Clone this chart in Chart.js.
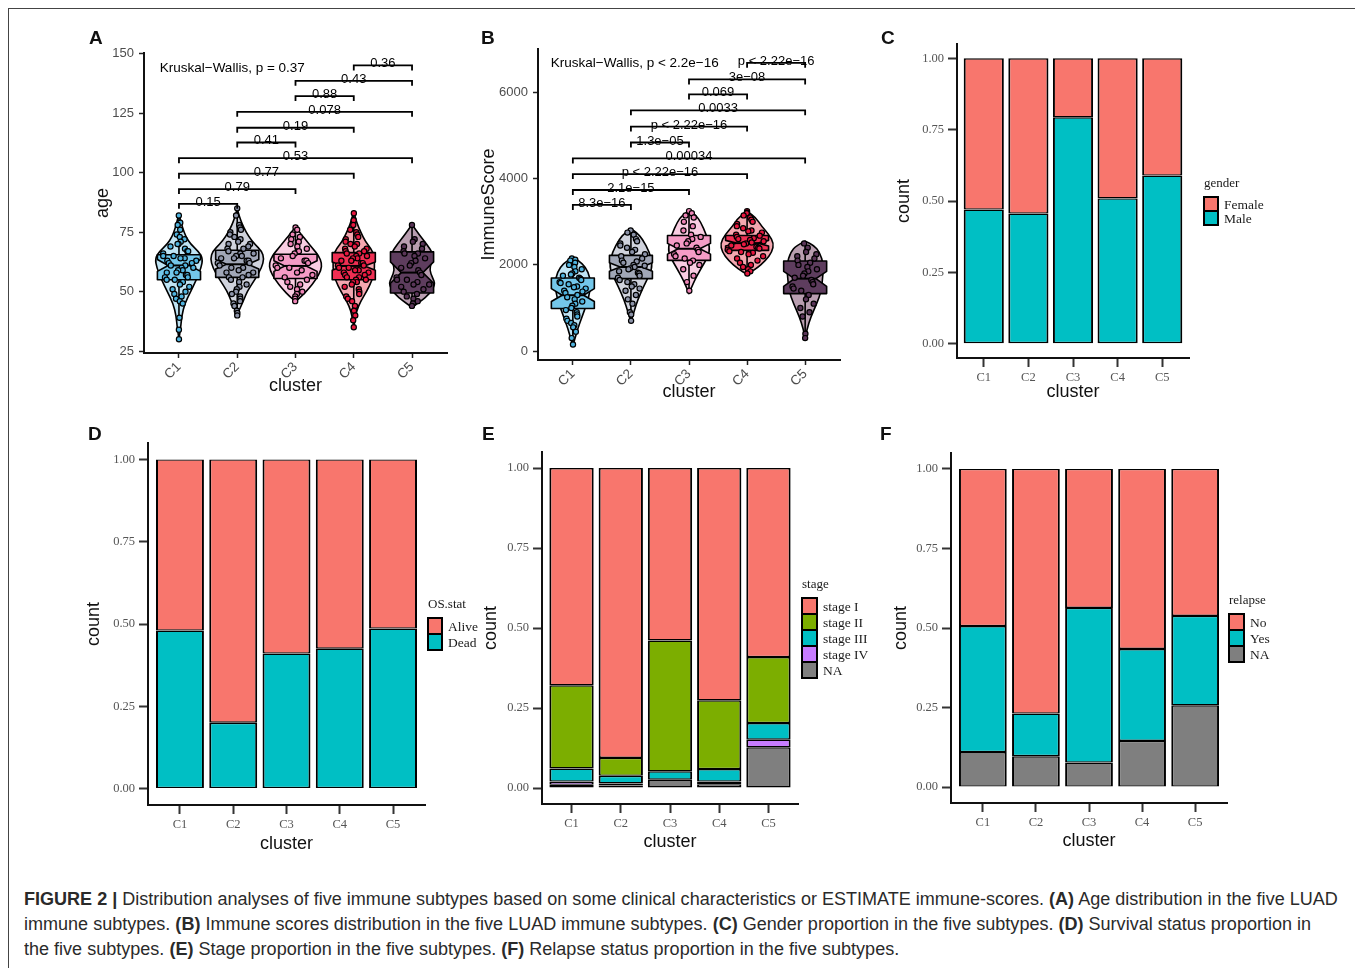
<!DOCTYPE html>
<html>
<head>
<meta charset="utf-8">
<script src="https://cdn.jsdelivr.net/npm/chart.js@4.4.1/dist/chart.umd.min.js"></script>
<style>
  html, body { margin: 0; padding: 0; background: #fff; }
  body { width: 1355px; height: 968px; position: relative; overflow: hidden; font-family: "Liberation Sans", Arial, sans-serif; }
  .frame { position: absolute; left: 8px; top: 8px; right: 0; bottom: 0; border-top: 1px solid #444; border-left: 1px solid #444; }
  canvas { position: absolute; }
  .tag { position: absolute; font-weight: bold; font-size: 19px; color: #111; line-height: 1; }
  .caption { position: absolute; left: 24px; top: 887px; font-size: 17.5px; line-height: 25px; color: #2a2a2a; white-space: nowrap; transform-origin: 0 0; }
</style>
</head>
<body>
<div class="frame"></div>

<canvas id="pA" width="390" height="360" style="left:80px;top:40px"></canvas>
<canvas id="pB" width="380" height="370" style="left:470px;top:36px"></canvas>
<canvas id="pC" width="420" height="380" style="left:870px;top:30px"></canvas>
<canvas id="pD" width="410" height="430" style="left:80px;top:430px"></canvas>
<canvas id="pE" width="410" height="422" style="left:475px;top:438px"></canvas>
<canvas id="pF" width="420" height="422" style="left:870px;top:438px"></canvas>

<div class="tag" style="left:89px;top:28px">A</div>
<div class="tag" style="left:481px;top:28px">B</div>
<div class="tag" style="left:881px;top:28px">C</div>
<div class="tag" style="left:88px;top:424px">D</div>
<div class="tag" style="left:482px;top:424px">E</div>
<div class="tag" style="left:880px;top:424px">F</div>

<div class="caption" id="caption">
  <div id="capLine1"><b>FIGURE 2 |</b> Distribution analyses of five immune subtypes based on some clinical characteristics or ESTIMATE immune-scores. <b>(A)</b> Age distribution in the five LUAD</div>
  <div>immune subtypes. <b>(B)</b> Immune scores distribution in the five LUAD immune subtypes. <b>(C)</b> Gender proportion in the five subtypes. <b>(D)</b> Survival status proportion in</div>
  <div>the five subtypes. <b>(E)</b> Stage proportion in the five subtypes. <b>(F)</b> Relapse status proportion in the five subtypes.</div>
</div>

<script>
Chart.defaults.font.family = "'Liberation Sans', Arial, sans-serif";

// === DATA ===
const clusters = ["C1", "C2", "C3", "C4", "C5"];

// A: age, points per cluster
const ageTicks = [25, 50, 75, 100, 125, 150];
const ageC1 = [82, 79, 78, 76, 74, 73, 72, 71, 70, 70, 69, 68, 67, 67, 66, 65, 65, 64, 64, 63, 63, 62, 62, 61, 61, 60, 60, 59, 59, 58, 58, 57, 57, 56, 56, 55, 55, 54, 53, 52, 51, 50, 49, 48, 47, 46, 45, 39, 34, 30];
const ageC2 = [85, 82, 78, 77, 76, 75, 74, 73, 72, 71, 70, 70, 69, 68, 68, 67, 66, 66, 65, 65, 64, 64, 63, 63, 62, 62, 61, 60, 60, 59, 58, 58, 57, 56, 56, 55, 54, 53, 52, 51, 50, 49, 48, 47, 46, 45, 44, 42, 41, 40];
const ageC3 = [77, 76, 74, 73, 72, 71, 70, 69, 68, 67, 66, 65, 64, 63, 63, 62, 61, 60, 60, 59, 58, 57, 56, 55, 54, 53, 52, 51, 50, 49, 48, 47, 46];
const ageC4 = [83, 80, 78, 76, 75, 74, 73, 72, 71, 70, 70, 69, 68, 68, 67, 67, 66, 66, 65, 65, 64, 64, 63, 63, 62, 62, 61, 61, 60, 60, 59, 59, 58, 58, 57, 57, 56, 56, 55, 55, 54, 54, 53, 52, 51, 50, 49, 48, 47, 46, 44, 42, 40, 38, 35];
const ageC5 = [78, 72, 71, 70, 69, 68, 67, 66, 66, 65, 64, 63, 62, 61, 60, 59, 58, 57, 56, 55, 55, 54, 53, 53, 52, 51, 50, 49, 48, 47, 46, 45, 44];
// box: [whiskerLow, q1, notchLow, median, notchHigh, q3, whiskerHigh]
const ageBoxes = [
  [39, 55, 58.5, 61, 63.5, 65.5, 82],
  [40, 56, 59.5, 61.5, 63.5, 67.4, 85],
  [46, 55.5, 58.5, 60.8, 63, 65.7, 77],
  [35, 55, 59, 60.8, 62.5, 66.4, 83],
  [44, 49.4, 53.5, 58, 62.5, 66.7, 78],
];
// violin outline: [age, half width in cluster units]
const ageViolins = [
  [[30, 0], [35, 0.03], [40, 0.05], [45, 0.1], [50, 0.2], [55, 0.3], [60, 0.38], [64, 0.41], [67, 0.33], [70, 0.2], [73, 0.12], [77, 0.06], [80, 0.03], [82.4, 0]],
  [[40.5, 0], [43, 0.05], [47, 0.12], [50, 0.17], [55, 0.3], [60, 0.42], [64, 0.46], [67, 0.42], [70, 0.3], [73, 0.2], [77, 0.11], [80, 0.06], [83, 0.02], [85, 0]],
  [[45.8, 0], [48, 0.1], [51, 0.22], [55, 0.35], [59, 0.44], [62, 0.45], [65, 0.4], [68, 0.3], [71, 0.2], [74, 0.1], [77.3, 0]],
  [[35, 0], [38, 0.02], [42, 0.05], [46, 0.12], [50, 0.22], [55, 0.32], [60, 0.36], [65, 0.35], [68, 0.3], [71, 0.2], [75, 0.12], [79, 0.05], [83.8, 0]],
  [[43.4, 0], [46, 0.15], [49, 0.3], [53, 0.4], [56, 0.35], [59, 0.3], [62, 0.33], [66, 0.36], [70, 0.25], [74, 0.12], [78.2, 0]],
];
// pairwise tests: [from, to, p label, bracket level]
const ageCompare = [
  [1, 2, "0.15", 86.9], [1, 3, "0.79", 93.1], [1, 4, "0.77", 99.6], [1, 5, "0.53", 106.1],
  [2, 3, "0.41", 112.7], [2, 4, "0.19", 118.9], [2, 5, "0.078", 125.6],
  [3, 4, "0.88", 132.2], [3, 5, "0.43", 138.6], [4, 5, "0.36", 145.1],
];

// B: ImmuneScore
const immTicks = [0, 2000, 4000, 6000];
const immC1 = [2150, 2120, 2100, 2050, 2000, 1950, 1900, 1850, 1800, 1780, 1750, 1700, 1680, 1650, 1600, 1580, 1550, 1500, 1480, 1450, 1400, 1380, 1350, 1300, 1250, 1200, 1150, 1100, 1050, 1000, 950, 900, 850, 800, 750, 700, 650, 600, 550, 450, 300, 150];
const immC2 = [2800, 2750, 2700, 2600, 2550, 2500, 2450, 2400, 2350, 2300, 2250, 2200, 2150, 2100, 2080, 2050, 2000, 1980, 1950, 1920, 1900, 1850, 1820, 1800, 1750, 1700, 1650, 1600, 1550, 1500, 1450, 1400, 1300, 1200, 1100, 900, 850, 700];
const immC3 = [3250, 3200, 3150, 3100, 3000, 2900, 2800, 2700, 2650, 2600, 2550, 2500, 2450, 2400, 2350, 2300, 2250, 2200, 2150, 2100, 2050, 2000, 1900, 1750, 1600, 1400];
const immC4 = [3250, 3220, 3200, 3150, 3100, 3050, 3000, 2950, 2900, 2850, 2800, 2780, 2750, 2700, 2680, 2650, 2620, 2600, 2580, 2550, 2520, 2500, 2480, 2450, 2420, 2400, 2380, 2350, 2320, 2300, 2280, 2250, 2200, 2150, 2100, 2050, 2000, 1950, 1900, 1850, 1800];
const immC5 = [2500, 2400, 2300, 2250, 2200, 2150, 2100, 2050, 2000, 1950, 1900, 1850, 1800, 1750, 1700, 1650, 1600, 1550, 1500, 1450, 1400, 1300, 1200, 1100, 1000, 900, 800, 400, 300];
const immBoxes = [
  [150, 987, 1150, 1296, 1450, 1697, 2167],
  [680, 1681, 1850, 1951, 2050, 2221, 2838],
  [1334, 2105, 2250, 2375, 2500, 2684, 3262],
  [1781, 2337, 2440, 2506, 2570, 2684, 3247],
  [293, 1334, 1500, 1681, 1850, 2090, 2553],
];
const immViolins = [
  [[130, 0], [300, 0.04], [500, 0.08], [800, 0.16], [1100, 0.24], [1400, 0.3], [1700, 0.3], [1950, 0.22], [2100, 0.1], [2176, 0]],
  [[680, 0], [900, 0.05], [1200, 0.12], [1500, 0.22], [1800, 0.33], [2000, 0.37], [2300, 0.32], [2600, 0.2], [2750, 0.1], [2838, 0]],
  [[1334, 0], [1600, 0.08], [1900, 0.2], [2200, 0.33], [2400, 0.36], [2700, 0.3], [3000, 0.2], [3150, 0.12], [3262, 0]],
  [[1781, 0], [1900, 0.15], [2100, 0.32], [2300, 0.43], [2500, 0.46], [2700, 0.38], [2900, 0.25], [3100, 0.15], [3247, 0]],
  [[293, 0], [500, 0.03], [800, 0.1], [1100, 0.2], [1400, 0.28], [1700, 0.3], [2000, 0.32], [2300, 0.25], [2450, 0.15], [2553, 0]],
];
const immCompare = [
  [1, 2, "8.3e\u221216", 3393], [1, 3, "2.1e\u221215", 3740], [1, 4, "p < 2.22e\u221216", 4110], [1, 5, "0.00034", 4473],
  [2, 3, "1.3e\u221205", 4843], [2, 4, "p < 2.22e\u221216", 5213], [2, 5, "0.0033", 5591],
  [3, 4, "0.069", 5961], [3, 5, "3e\u221208", 6308], [4, 5, "p < 2.22e\u221216", 6694],
];

// proportion panels
const propTicks = [0, 0.25, 0.5, 0.75, 1];

// C: gender (legend order, top segment first)
const genderLevels = ["Female", "Male"];
const genderFemale = [0.53, 0.544, 0.207, 0.491, 0.411];
const genderMale = [0.47, 0.456, 0.793, 0.509, 0.589];

// D: OS.stat
const osLevels = ["Alive", "Dead"];
const osAlive = [0.52, 0.80, 0.59, 0.575, 0.514];
const osDead = [0.48, 0.20, 0.41, 0.425, 0.486];

// E: stage
const stageLevels = ["stage I", "stage II", "stage III", "stage IV", "NA"];
const stageI = [0.679, 0.906, 0.539, 0.726, 0.591];
const stageII = [0.26, 0.056, 0.409, 0.215, 0.206];
const stageIII = [0.041, 0.024, 0.026, 0.039, 0.052];
const stageIV = [0.01, 0.006, 0, 0.008, 0.024];
const stageNA = [0.01, 0.008, 0.026, 0.012, 0.127];

// F: relapse
const relapseLevels = ["No", "Yes", "NA"];
const relapseNo = [0.494, 0.769, 0.437, 0.566, 0.462];
const relapseYes = [0.396, 0.134, 0.486, 0.289, 0.281];
const relapseNA = [0.11, 0.097, 0.077, 0.145, 0.257];

// === STYLE ===
const violinFill = ["#bfe4f4", "#d0d3dd", "#f9cde2", "#f4a7b0", "#b99eb0"];
const boxFill = ["#74c7ea", "#a1a7b7", "#f59cc6", "#ef2f53", "#5e3d5e"];
const pointFill = ["#4fb3de", "#8c93a8", "#ee84b6", "#e8173f", "#5a3558"];
const jitter = [-0.62, 0.35, 0.81, -0.15, 0.54, -0.88, 0.08, 0.7, -0.45, 0.22, -0.75, 0.6, -0.3, 0.92, -0.55, 0.15, -0.05, 0.45, -0.95, 0.3];
const salmon = "#F8766D", teal = "#00BFC4", green = "#7CAE00", violet = "#C77CFF", grey = "#7F7F7F";

function halfWidthAt(prof, v) {
  for (let k = 1; k < prof.length; k++) {
    const [v0, w0] = prof[k - 1], [v1, w1] = prof[k];
    if (v >= v0 && v <= v1) return w0 + (w1 - w0) * (v - v0) / (v1 - v0);
  }
  return 0;
}

function smoothSide(ctx, pts, move) {
  if (move) ctx.moveTo(pts[0][0], pts[0][1]); else ctx.lineTo(pts[0][0], pts[0][1]);
  for (let k = 1; k < pts.length - 1; k++) {
    const mx = (pts[k][0] + pts[k + 1][0]) / 2, my = (pts[k][1] + pts[k + 1][1]) / 2;
    ctx.quadraticCurveTo(pts[k][0], pts[k][1], mx, my);
  }
  const last = pts[pts.length - 1];
  ctx.lineTo(last[0], last[1]);
}

function violinPlugin(o) {
  return {
    id: "violins" + o.id,
    beforeDatasetsDraw(chart) {
      const { ctx, scales: { x, y } } = chart;
      ctx.save();
      ctx.lineJoin = "round";
      ctx.strokeStyle = "#000";
      ctx.lineWidth = 1.6;
      o.violins.forEach((prof, i) => {
        const c = i + 1;
        const right = prof.map(([v, w]) => [x.getPixelForValue(c + w), y.getPixelForValue(v)]);
        const left = prof.slice().reverse().map(([v, w]) => [x.getPixelForValue(c - w), y.getPixelForValue(v)]);
        ctx.beginPath();
        smoothSide(ctx, right, true);
        smoothSide(ctx, left, false);
        ctx.closePath();
        ctx.fillStyle = violinFill[i];
        ctx.fill();
        ctx.stroke();
      });
      o.boxes.forEach(([lo, q1, nLo, med, nHi, q3, hi], i) => {
        const c = i + 1, bw = o.boxHalf, nw = bw * 0.5;
        const X = d => x.getPixelForValue(c + d), Y = v => y.getPixelForValue(v);
        ctx.beginPath();
        ctx.moveTo(X(0), Y(q3)); ctx.lineTo(X(0), Y(hi));
        ctx.moveTo(X(0), Y(q1)); ctx.lineTo(X(0), Y(lo));
        ctx.stroke();
        ctx.beginPath();
        [[-bw, q3], [bw, q3], [bw, nHi], [nw, med], [bw, nLo], [bw, q1], [-bw, q1], [-bw, nLo], [-nw, med], [-bw, nHi]]
          .forEach(([d, v], k) => (k ? ctx.lineTo(X(d), Y(v)) : ctx.moveTo(X(d), Y(v))));
        ctx.closePath();
        ctx.fillStyle = boxFill[i];
        ctx.fill();
        ctx.stroke();
        ctx.beginPath();
        ctx.moveTo(X(-nw), Y(med)); ctx.lineTo(X(nw), Y(med));
        ctx.lineWidth = 2;
        ctx.stroke();
        ctx.lineWidth = 1.6;
      });
      ctx.restore();
    },
    afterDatasetsDraw(chart) {
      const { ctx, scales: { x, y } } = chart;
      ctx.save();
      ctx.strokeStyle = "#000";
      ctx.fillStyle = "#000";
      ctx.lineWidth = 1.8;
      ctx.font = "13px 'Liberation Sans', Arial, sans-serif";
      ctx.textAlign = "center";
      ctx.textBaseline = "alphabetic";
      o.compare.forEach(([a, b, label, level]) => {
        const x1 = x.getPixelForValue(a), x2 = x.getPixelForValue(b), yy = y.getPixelForValue(level);
        ctx.beginPath();
        ctx.moveTo(x1, yy + 5); ctx.lineTo(x1, yy); ctx.lineTo(x2, yy); ctx.lineTo(x2, yy + 5);
        ctx.stroke();
        ctx.fillText(label, (x1 + x2) / 2, yy + 2);
      });
      ctx.textAlign = "left";
      ctx.textBaseline = "middle";
      ctx.font = "13.5px 'Liberation Sans', Arial, sans-serif";
      ctx.fillText(o.kwText, x.getPixelForValue(o.kwAt[0]), y.getPixelForValue(o.kwAt[1]));
      ctx.restore();
    },
  };
}

function xClusterScale(o, extra) {
  return Object.assign({
    type: "linear", min: 0.4, max: 5.6, offset: false,
    afterBuildTicks: s => { s.ticks = clusters.map((c, i) => ({ value: i + 1 })); },
    afterFit: s => { s.height = o.xHeight; },
    border: { color: "#111", width: 2 },
    title: { display: true, text: "cluster", color: "#111", font: { size: 18 }, padding: { top: 0, bottom: o.xTitlePad } },
  }, extra);
}

function violinChart(o) {
  const datasets = o.points.map((pts, i) => ({
    data: pts.map((v, k) => ({
      x: i + 1 + jitter[(k * 7 + i * 3) % jitter.length] * halfWidthAt(o.violins[i], v) * 0.8,
      y: v,
    })),
    pointBackgroundColor: pointFill[i],
    pointBorderColor: "#000",
    pointBorderWidth: 1.2,
    pointRadius: 2.6,
  }));
  new Chart(document.getElementById(o.id), {
    type: "scatter",
    data: { datasets },
    options: {
      responsive: false, animation: false, events: [],
      layout: { padding: { top: o.padTop, right: o.padRight, left: 0, bottom: 0 } },
      plugins: { legend: { display: false }, tooltip: { enabled: false } },
      scales: {
        x: xClusterScale(o, {
          ticks: { callback: v => clusters[v - 1], minRotation: 45, maxRotation: 45, autoSkip: false, color: "#4d4d4d", font: { size: 13.5 }, padding: 1 },
          grid: { display: true, drawOnChartArea: false, offset: false, tickLength: 5, tickWidth: 1.5, tickColor: "#222" },
        }),
        y: {
          min: o.yMin, max: o.yMax,
          afterBuildTicks: s => { s.ticks = o.yTicks.map(v => ({ value: v })); },
          afterFit: s => { s.width = o.yWidth; },
          ticks: { callback: v => String(v), color: "#4d4d4d", font: { size: 13 }, padding: 5 },
          grid: { display: true, drawOnChartArea: false, tickLength: 5, tickWidth: 1.5, tickColor: "#222" },
          border: { color: "#111", width: 2 },
          title: { display: true, text: o.yTitle, color: "#111", font: { size: 18 }, padding: { top: o.yTitlePad, bottom: 0 } },
        },
      },
    },
    plugins: [violinPlugin(o)],
  });
}

function legendPlugin(o) {
  return {
    id: "legendBox" + o.id,
    afterDraw(chart) {
      const { ctx, chartArea: area } = chart;
      const [kw, kh] = o.keySize;
      const n = o.levels.length;
      const keysTop = (area.top + area.bottom) / 2 - (n * kh) / 2 + 10;
      const lx = area.right + o.legendDx;
      ctx.save();
      ctx.fillStyle = "#1a1a1a";
      ctx.textBaseline = "middle";
      ctx.textAlign = "left";
      ctx.font = "13px 'Liberation Serif', 'Times New Roman', serif";
      ctx.fillText(o.legendTitle, lx, keysTop - 13);
      ctx.font = "13.5px 'Liberation Serif', 'Times New Roman', serif";
      o.levels.forEach((lab, k) => {
        const ty = keysTop + k * kh;
        ctx.fillStyle = o.colors[k];
        ctx.fillRect(lx, ty, kw, kh);
        ctx.fillStyle = "#1a1a1a";
        ctx.fillText(lab, lx + kw + 6, ty + kh / 2 + 1);
      });
      ctx.strokeStyle = "#000";
      ctx.lineWidth = 2;
      o.levels.forEach((lab, k) => ctx.strokeRect(lx, keysTop + k * kh, kw, kh));
      ctx.restore();
    },
  };
}

function barChart(o) {
  // stacking starts at the bottom, so the last legend level is dataset 0
  const datasets = o.series.map((s, k) => ({
    label: o.levels[k],
    data: s.map((v, i) => ({ x: i + 1, y: v })),
    backgroundColor: o.colors[k],
    borderColor: "#000",
    borderWidth: { left: 2, right: 2, top: 1.4, bottom: 1.4 },
    borderSkipped: false,
    barPercentage: 0.9,
    categoryPercentage: 1,
  })).reverse();
  const serif = "'Liberation Serif', 'Times New Roman', serif";
  new Chart(document.getElementById(o.id), {
    type: "bar",
    data: { datasets },
    options: {
      responsive: false, animation: false, events: [],
      layout: { padding: { top: o.padTop, right: o.padRight, left: 0, bottom: 0 } },
      plugins: { legend: { display: false }, tooltip: { enabled: false } },
      scales: {
        x: xClusterScale(o, {
          stacked: true,
          ticks: { callback: v => clusters[v - 1], maxRotation: 0, autoSkip: false, color: "#555", font: { size: 12.5, family: serif }, padding: 3 },
          grid: { display: true, drawOnChartArea: false, offset: false, tickLength: 9, tickWidth: 2, tickColor: "#333" },
        }),
        y: {
          stacked: true, min: -0.05, max: 1.05,
          afterBuildTicks: s => { s.ticks = propTicks.map(v => ({ value: v })); },
          afterFit: s => { s.width = o.yWidth; },
          ticks: { callback: v => v.toFixed(2), color: "#555", font: { size: 12.5, family: serif }, padding: 4 },
          grid: { display: true, drawOnChartArea: false, tickLength: 9, tickWidth: 2, tickColor: "#333" },
          border: { color: "#111", width: 2 },
          title: { display: true, text: "count", color: "#111", font: { size: 18 }, padding: { top: o.yTitlePad, bottom: 0 } },
        },
      },
    },
    plugins: [legendPlugin(o)],
  });
}

// === PANELS ===
violinChart({
  id: "pA", points: [ageC1, ageC2, ageC3, ageC4, ageC5], boxes: ageBoxes, violins: ageViolins, compare: ageCompare,
  kwText: "Kruskal\u2212Wallis, p = 0.37", kwAt: [0.67, 143.7], boxHalf: 0.37,
  yMin: 24.2, yMax: 150.4, yTicks: ageTicks, yTitle: "age",
  padTop: 12, padRight: 23, yWidth: 64, xHeight: 47, yTitlePad: 12, xTitlePad: 3,
});
violinChart({
  id: "pB", points: [immC1, immC2, immC3, immC4, immC5], boxes: immBoxes, violins: immViolins, compare: immCompare,
  kwText: "Kruskal\u2212Wallis, p < 2.2e\u221216", kwAt: [0.62, 6695], boxHalf: 0.37,
  yMin: -209, yMax: 7020, yTicks: immTicks, yTitle: "ImmuneScore",
  padTop: 12, padRight: 10, yWidth: 68, xHeight: 46, yTitlePad: 8, xTitlePad: 3,
});
barChart({
  id: "pC", levels: genderLevels, series: [genderFemale, genderMale], colors: [salmon, teal],
  legendTitle: "gender", legendDx: 15, keySize: [14, 14],
  padTop: 14, padRight: 101, yWidth: 87, xHeight: 52, yTitlePad: 23, xTitlePad: 7,
});
barChart({
  id: "pD", levels: osLevels, series: [osAlive, osDead], colors: [salmon, teal],
  legendTitle: "OS.stat", legendDx: 3, keySize: [14, 16],
  padTop: 13, padRight: 65, yWidth: 68, xHeight: 55, yTitlePad: 3, xTitlePad: 5,
});
barChart({
  id: "pE", levels: stageLevels, series: [stageI, stageII, stageIII, stageIV, stageNA], colors: [salmon, green, teal, violet, grey],
  legendTitle: "stage", legendDx: 4, keySize: [15, 16],
  padTop: 14, padRight: 87, yWidth: 67, xHeight: 56, yTitlePad: 5, xTitlePad: 7,
});
barChart({
  id: "pF", levels: relapseLevels, series: [relapseNo, relapseYes, relapseNA], colors: [salmon, teal, grey],
  legendTitle: "relapse", legendDx: 2, keySize: [15, 16],
  padTop: 15, padRight: 63, yWidth: 81, xHeight: 57, yTitlePad: 20, xTitlePad: 8,
});

// fit the caption's first line to the figure width
const cap = document.getElementById("caption");
const w1 = document.getElementById("capLine1").scrollWidth;
cap.style.transform = "scaleX(" + (1314 / w1).toFixed(4) + ")";
</script>
</body>
</html>
